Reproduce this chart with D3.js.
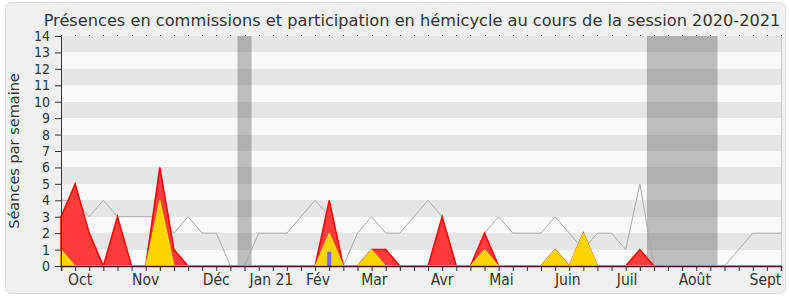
<!DOCTYPE html>
<html>
<head>
<meta charset="utf-8">
<title>Présences</title>
<script src="https://d3js.org/d3.v7.min.js"></script>
<style>
 body { margin: 0; background: #fff; }
 text { font-family: "DejaVu Sans", Verdana, sans-serif; fill: #333; }
 .cond { font-family: "DejaVu Sans Condensed", "DejaVu Sans", sans-serif; }
</style>
</head>
<body>
<div id="chart"></div>
<script>
// one value per week of the session (52 weeks)
var hemicycle = [4,4,3,4,3,3,3,3,2,3,2,2,0,0,2,2,2,3,4,3,0,2,3,2,2,3,4,3,0,0,2,3,2,2,2,3,2,1,2,2,1,5,0,0,0,0,0,0,1,2,2,2];
var commissions = [3,5,2,0,3,0,0,6,1,0,0,0,0,0,0,0,0,0,0,4,0,0,1,1,0,0,0,3,0,0,2,0,0,0,0,1,0,2,0,0,0,1,0,0,0,0,0,0,0,0,0,0];
var participation = [1,0,0,0,0,0,0,4,0,0,0,0,0,0,0,0,0,0,0,2,0,0,1,0,0,0,0,0,0,0,1,0,0,0,0,1,0,2,0,0,0,0,0,0,0,0,0,0,0,0,0,0];
var questions = [{week: 19, value: 0.87}];
var vacances = [[13, 13], [42, 46]];
var monthLabels = ["Oct","Nov","Déc","Jan 21","Fév","Mar","Avr","Mai","Juin","Juil","Août","Sept"];
var monthPos = [1.35, 6.0, 11.0, 14.9, 18.2, 22.2, 27.0, 31.2, 35.9, 40.1, 44.9, 49.9];
var yTicks = d3.range(0, 15);

var W = 790, H = 300;
var margin = {top: 36, right: 9, bottom: 34, left: 61};
var iw = W - margin.left - margin.right, ih = H - margin.top - margin.bottom;

var svg = d3.select("#chart").append("svg")
  .attr("width", W).attr("height", H);

svg.append("rect")
  .attr("x", 5.5).attr("y", 2.5).attr("width", 780).attr("height", 291)
  .attr("rx", 6)
  .style("fill", "#f0f0f0").style("stroke", "#dcdcdc");

svg.append("text")
  .attr("x", 412).attr("y", 26)
  .attr("text-anchor", "middle")
  .style("font-size", "16.2px")
  .text("Présences en commissions et participation en hémicycle au cours de la session 2020-2021");

svg.append("text")
  .attr("transform", "translate(19,151) rotate(-90)")
  .attr("text-anchor", "middle")
  .style("font-size", "14.5px")
  .text("Séances par semaine");

var x = d3.scaleLinear().domain([0, 51]).range([0, iw]);
var y = d3.scaleLinear().domain([0, 14]).range([ih, 0]);

var g = svg.append("g").attr("transform", "translate(" + margin.left + "," + margin.top + ")");

g.append("rect").attr("width", iw).attr("height", ih).style("fill", "#fff");

// vacations
g.selectAll(".vac")
  .data(vacances)
  .enter().append("rect")
  .attr("x", function(d) { return x(d[0] - 0.5); })
  .attr("width", function(d) { return x(d[1] + 0.5) - x(d[0] - 0.5); })
  .attr("y", 0).attr("height", ih)
  .style("fill", "#c2c2c2");

// horizontal bands
g.selectAll(".band")
  .data(d3.range(0, 14))
  .enter().append("rect")
  .attr("x", 0).attr("width", iw)
  .attr("y", function(d) { return y(d + 1); })
  .attr("height", function(d) { return y(d) - y(d + 1); })
  .style("shape-rendering", "crispEdges")
  .style("fill", "#000")
  .style("fill-opacity", function(d) { return d % 2 == 1 ? 0.098 : 0.024; });

var line = d3.line()
  .x(function(d, i) { return x(i); })
  .y(function(d) { return y(d); });

var area = d3.area()
  .x(function(d, i) { return x(i); })
  .y0(y(0))
  .y1(function(d) { return y(d); });

g.append("path")
  .datum(hemicycle)
  .attr("d", line)
  .style("fill", "none")
  .style("stroke", "#aaa")
  .style("stroke-width", 1);

g.append("path")
  .datum(commissions)
  .attr("d", area)
  .style("fill", "#ff3c3c")
  .style("stroke", "#ff0000")
  .style("stroke-width", 1.5);

g.append("path")
  .datum(participation)
  .attr("d", area)
  .style("fill", "#ffd500")
  .style("stroke", "#ffee00")
  .style("stroke-width", 1);

g.selectAll(".q")
  .data(questions)
  .enter().append("rect")
  .attr("x", function(d) { return x(d.week) - 2; })
  .attr("width", 4)
  .attr("y", function(d) { return y(d.value); })
  .attr("height", function(d) { return y(0) - y(d.value); })
  .style("fill", "#6a6aff");

// right border
g.append("line")
  .attr("x1", iw + 0.5).attr("x2", iw + 0.5)
  .attr("y1", 0).attr("y2", ih)
  .style("stroke", "#ccc");

// top dots
g.selectAll(".dot")
  .data(d3.range(0, 52))
  .enter().append("rect")
  .attr("x", function(d) { return Math.round(x(d)); })
  .attr("y", -1).attr("width", 1).attr("height", 1)
  .style("fill", "#444");

// y axis
var yAxis = g.append("g")
  .call(d3.axisLeft(y).tickValues(yTicks).tickSize(6).tickPadding(5).tickFormat(d3.format("d")));
yAxis.select(".domain").style("stroke", "#333");
yAxis.selectAll(".tick line").style("stroke", "#333");
yAxis.selectAll("text").attr("class", "cond").style("font-size", "14px").style("fill", "#333");

// x axis
var xAxis = g.append("g")
  .attr("transform", "translate(0," + ih + ")")
  .call(d3.axisBottom(x).tickValues(d3.range(0, 52)).tickSize(5).tickFormat(""));
xAxis.select(".domain").style("stroke", "#4a0a00").style("stroke-width", 1.5);
xAxis.selectAll(".tick line").style("stroke", "#333");

g.selectAll(".month")
  .data(monthLabels)
  .enter().append("text")
  .attr("class", "cond")
  .attr("x", function(d, i) { return x(monthPos[i]); })
  .attr("y", ih + 19)
  .attr("text-anchor", "middle")
  .style("font-size", "15.5px")
  .text(function(d) { return d; });
</script>
</body>
</html>
